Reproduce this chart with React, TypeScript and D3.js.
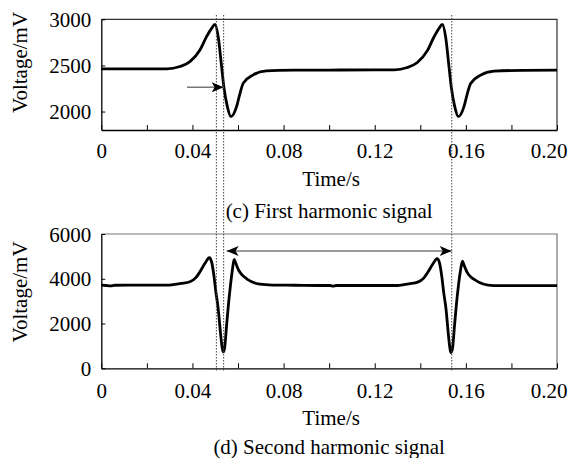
import React, { useRef, useEffect } from 'react';
import * as d3 from 'd3';

// first harmonic signal (panel c)
const timeFirst = [0, 0.0287, 0.0345, 0.0389, 0.0433, 0.0462, 0.0484, 0.0499, 0.0513, 0.0528, 0.0538, 0.0553, 0.0569, 0.0594, 0.0608, 0.0623, 0.0667, 0.0725, 0.085, 0.10, 0.12,
    0.1285, 0.1343, 0.1387, 0.1431, 0.146, 0.1482, 0.1497, 0.1511, 0.1526, 0.1536, 0.1551, 0.1567, 0.1592, 0.1606, 0.1621, 0.1665, 0.1723, 0.185, 0.20];
const voltFirst = [2463, 2463, 2488, 2542, 2668, 2812, 2902, 2946, 2812, 2487, 2265, 2056, 1944, 2056, 2190, 2308, 2398, 2441, 2448, 2450, 2452,
    2452, 2477, 2532, 2660, 2808, 2900, 2946, 2812, 2487, 2265, 2056, 1944, 2056, 2190, 2305, 2395, 2438, 2447, 2448];

// second harmonic signal (panel d)
const timeSecond = [0, 0.002, 0.004, 0.006, 0.012, 0.022, 0.03, 0.0323, 0.035, 0.0389, 0.0415, 0.0433, 0.0455, 0.0474, 0.0484, 0.0494, 0.0503, 0.0513, 0.0522, 0.053, 0.0535, 0.0541, 0.055, 0.0558, 0.0567, 0.0576, 0.0583, 0.059, 0.0603, 0.062, 0.0638, 0.066, 0.0696, 0.075, 0.085, 0.095, 0.1005, 0.1017, 0.103, 0.115, 0.13,
    0.1323, 0.135, 0.1389, 0.1415, 0.1433, 0.1455, 0.1474, 0.1484, 0.1494, 0.1503, 0.1513, 0.1522, 0.153, 0.1534, 0.1541, 0.155, 0.1558, 0.1567, 0.1577, 0.1585, 0.1592, 0.1605, 0.1622, 0.164, 0.1662, 0.1698, 0.175, 0.185, 0.20];
const voltSecond = [3720, 3700, 3680, 3710, 3715, 3715, 3720, 3750, 3790, 3865, 4050, 4310, 4690, 4940, 4750, 4160, 3400, 2670, 1700, 950, 730, 900, 1925, 2850, 3715, 4450, 4870, 4700, 4380, 4150, 4000, 3870, 3760, 3720, 3710, 3700, 3700, 3670, 3700, 3700, 3700,
    3730, 3775, 3850, 4030, 4290, 4660, 4900, 4720, 4130, 3370, 2640, 1650, 900, 700, 860, 1880, 2800, 3660, 4400, 4790, 4610, 4300, 4080, 3950, 3820, 3720, 3695, 3690, 3690];

const xTicks = [0, 0.02, 0.04, 0.06, 0.08, 0.10, 0.12, 0.14, 0.16, 0.18, 0.20];
const xLabelled = [0, 0.04, 0.08, 0.12, 0.16, 0.20];
const yTicksFirst = [2000, 2500, 3000];
const yTicksSecond = [0, 2000, 4000, 6000];

// dotted markers across both panels, and the annotation arrows
const markerTimes = [0.0505, 0.0537, 0.1538];
const arrowFirst = { from: 0.0376, to: 0.0537, volt: 2263 };
const arrowSecond = { from: 0.055, to: 0.1538, volt: 5240 };

const FONT = "'Liberation Serif', 'Times New Roman', serif";

const App = () => {
    const svgRef = useRef(null);
    useEffect(() => {
        const svg = d3.select(svgRef.current);
        svg.selectAll('*').remove();

        const left = 101.3, right = 557;
        const x = d3.scaleLinear().domain([0, 0.2]).range([left, right]);

        const panels = [
            { time: timeFirst, volt: voltFirst, domain: [1800, 3000], top: 19.3, bottom: 130, ticks: yTicksFirst, frame: '#333',
              labelY: 158, titleY: 185.5, caption: '(c) First harmonic signal', captionY: 218, yLabelMid: 62.5 },
            { time: timeSecond, volt: voltSecond, domain: [0, 6000], top: 234, bottom: 368.3, ticks: yTicksSecond, frame: '#777',
              labelY: 398, titleY: 425, caption: '(d) Second harmonic signal', captionY: 454, yLabelMid: 292 },
        ];

        const defs = svg.append('defs');
        defs.append('marker')
            .attr('id', 'head')
            .attr('viewBox', '0 0 12 10')
            .attr('refX', 12).attr('refY', 5)
            .attr('markerUnits', 'userSpaceOnUse')
            .attr('markerWidth', 13).attr('markerHeight', 10)
            .attr('orient', 'auto-start-reverse')
            .append('path')
            .attr('d', 'M0,0 L12,5 L0,10 L3,5 Z')
            .attr('fill', '#000');

        const ys = [];
        panels.forEach((p) => {
            const y = d3.scaleLinear().domain(p.domain).range([p.bottom, p.top]);
            ys.push(y);
            const g = svg.append('g');

            // frame (top and right edges are lighter)
            g.append('path')
                .attr('d', `M${left},${p.top} H${right} V${p.bottom}`)
                .attr('fill', 'none').attr('stroke', p.frame).attr('stroke-width', 1.2);

            const xAxis = g.append('g')
                .attr('transform', `translate(0,${p.bottom})`)
                .call(d3.axisBottom(x).tickValues(xTicks).tickSizeInner(-5).tickSizeOuter(0)
                    .tickFormat(d => xLabelled.some(v => Math.abs(v - d) < 1e-9) ? (d === 0 ? '0' : d3.format('.2f')(d)) : ''));
            xAxis.select('.domain').attr('stroke', '#000').attr('stroke-width', 1.3);
            xAxis.selectAll('.tick line').attr('stroke', '#000');
            xAxis.selectAll('text')
                .attr('y', p.labelY - p.bottom).attr('dy', null)
                .attr('fill', '#000').attr('font-family', FONT).attr('font-size', 21);
            // last label sits a little inside the page edge
            xAxis.selectAll('.tick').filter(d => Math.abs(d - 0.2) < 1e-9).select('text')
                .attr('text-anchor', 'end').attr('x', 567 - right);

            const yAxis = g.append('g')
                .attr('transform', `translate(${left},0)`)
                .call(d3.axisLeft(y).tickValues(p.ticks).tickSizeInner(-4).tickSizeOuter(0).tickPadding(10).tickFormat(d3.format('d')));
            yAxis.select('.domain').attr('stroke', '#000').attr('stroke-width', 1.3);
            yAxis.selectAll('.tick line').attr('stroke', '#000');
            yAxis.selectAll('text')
                .attr('fill', '#000').attr('font-family', FONT).attr('font-size', 21).attr('dy', '0.34em');

            g.append('text')
                .attr('transform', `translate(27,${p.yLabelMid}) rotate(-90)`)
                .attr('text-anchor', 'middle')
                .attr('font-family', FONT).attr('font-size', 21)
                .text('Voltage/mV');

            g.append('text')
                .attr('x', (left + right) / 2 + 2).attr('y', p.titleY)
                .attr('text-anchor', 'middle')
                .attr('font-family', FONT).attr('font-size', 21)
                .text('Time/s');

            g.append('text')
                .attr('x', (left + right) / 2).attr('y', p.captionY)
                .attr('text-anchor', 'middle')
                .attr('font-family', FONT).attr('font-size', 21)
                .text(p.caption);

            const line = d3.line()
                .x(d => x(d[0]))
                .y(d => y(d[1]))
                .curve(d3.curveMonotoneX);
            g.append('path')
                .datum(p.time.map((t, k) => [t, p.volt[k]]))
                .attr('d', line)
                .attr('fill', 'none')
                .attr('stroke', '#000')
                .attr('stroke-width', 2.8)
                .attr('stroke-linejoin', 'round');
        });

        // dotted guide lines spanning both panels
        svg.append('g')
            .selectAll('line')
            .data(markerTimes)
            .join('line')
            .attr('x1', d => x(d)).attr('x2', d => x(d))
            .attr('y1', 15).attr('y2', 371)
            .attr('stroke', '#444')
            .attr('stroke-width', 1)
            .attr('stroke-dasharray', '1.5,1.5');

        // annotation arrows
        svg.append('line')
            .attr('x1', x(arrowFirst.from)).attr('x2', x(arrowFirst.to))
            .attr('y1', ys[0](arrowFirst.volt)).attr('y2', ys[0](arrowFirst.volt))
            .attr('stroke', '#777').attr('stroke-width', 1.5)
            .attr('marker-end', 'url(#head)');
        svg.append('line')
            .attr('x1', x(arrowSecond.from)).attr('x2', x(arrowSecond.to))
            .attr('y1', ys[1](arrowSecond.volt)).attr('y2', ys[1](arrowSecond.volt))
            .attr('stroke', '#777').attr('stroke-width', 1.5)
            .attr('marker-start', 'url(#head)')
            .attr('marker-end', 'url(#head)');

        return () => { svg.selectAll('*').remove(); };
    }, []);

    return <svg
        ref={svgRef}
        width={574}
        height={458}
        style={{ position: 'absolute', left: 0, top: 0, background: '#fff' }}
    />;
};

export default App;
